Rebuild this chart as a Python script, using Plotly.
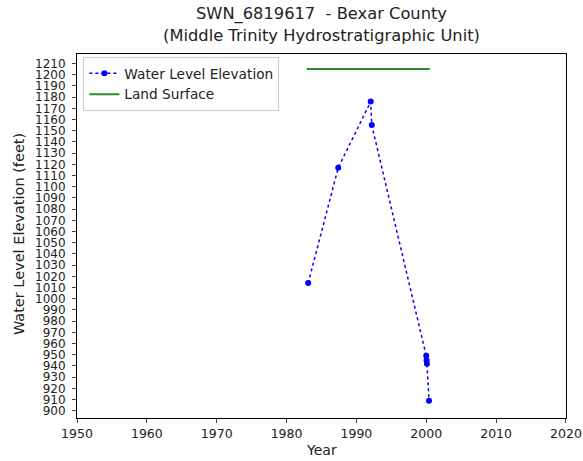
import plotly.graph_objects as go

years = [1983.1, 1987.4, 1992.05, 1992.2, 2000.0, 2000.05, 2000.1, 2000.4]
elev = [1014, 1117, 1176, 1155, 949, 945, 942, 909]
land_years = [1982.9, 2000.5]
land_elev = [1205, 1205]
ytick_vals = list(range(900, 1211, 10))
xtick_vals = list(range(1950, 2021, 10))

fig = go.Figure()
fig.add_trace(go.Scatter(
    x=years, y=elev, mode="lines+markers", name="Water Level Elevation",
    line=dict(color="#0000ff", dash="dot", width=1.5),
    marker=dict(color="#0000ff", size=6)))
fig.add_trace(go.Scatter(
    x=land_years, y=land_elev, mode="lines", name="Land Surface",
    line=dict(color="#2e8b2e", width=2)))

font_family = "DejaVu Sans, sans-serif"
fig.update_layout(
    width=583, height=461,
    margin=dict(l=76.5, r=17, t=54, b=43, autoexpand=False),
    paper_bgcolor="white", plot_bgcolor="white",
    font=dict(family=font_family, color="#222", size=11),
    title=dict(text="SWN_6819617  - Bexar County<br>(Middle Trinity Hydrostratigraphic Unit)",
               x=0.5, xanchor="center", xref="paper", yref="container", y=0.958, yanchor="middle",
               font=dict(size=16.3, color="#222"), automargin=False),
    legend=dict(x=0.013, y=0.992, xanchor="left", yanchor="top",
                bgcolor="white", bordercolor="#ccc", borderwidth=1,
                font=dict(size=13.7), tracegroupgap=0, itemwidth=30),
    showlegend=True,
    annotations=[
        dict(text="Water Level Elevation (feet)", xref="paper", yref="paper",
             x=-0.1195, y=0.504, xanchor="center", yanchor="middle", textangle=-90,
             showarrow=False, font=dict(size=14.5, color="#222")),
        dict(text="Year", xref="paper", yref="paper",
             x=0.5, y=-0.088, xanchor="center", yanchor="middle",
             showarrow=False, font=dict(size=14, color="#222")),
    ],
)
fig.update_xaxes(range=[1950, 2020.01], tickvals=xtick_vals, ticks="outside", ticklen=4,
                 showline=True, linecolor="black", mirror=True, showgrid=False, zeroline=False,
                 automargin=False, tickfont=dict(size=12.5))
fig.update_yaxes(range=[893.5, 1218.5], tickvals=ytick_vals, ticks="outside", ticklen=4,
                 ticklabelstandoff=4,
                 showline=True, linecolor="black", mirror=True, showgrid=False, zeroline=False,
                 automargin=False, tickfont=dict(size=12))
fig.write_html("out.html", config={"displayModeBar": False},
               post_script="document.body.style.margin='0';document.body.style.overflow='hidden';")
